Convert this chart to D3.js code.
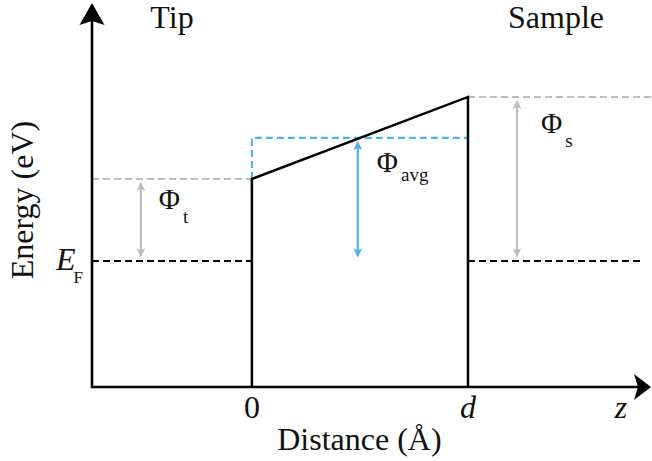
<!DOCTYPE html>
<html>
<head>
<meta charset="utf-8">
<script src="https://cdn.jsdelivr.net/npm/d3@7"></script>
<style>
  html, body { margin: 0; padding: 0; background: #fff; }
  svg { display: block; }
</style>
</head>
<body>
<svg id="chart" width="652" height="461"></svg>
<script>
// Distance along the junction, in units of the gap width d (tip surface at 0, sample at 1)
const zRange = [-0.74, 1.847];
const barrierEdges = [0, 1];
const zTickLabels = ["0", "d", "z"];
const zTickPositions = [0, 1, 1.708];

// Energies relative to the Fermi level (eV)
const energyRange = [-3.07, 6.29];
const fermiLevel = 0;
const tipWorkFunction = 2.0;      // Φt
const sampleWorkFunction = 4.0;   // Φs
const avgWorkFunction = (tipWorkFunction + sampleWorkFunction) / 2; // Φavg

// Where the work-function arrows sit along z
const arrowZ = [-0.514, 0.49, 1.227];

const FONT = "'Liberation Serif', 'Times New Roman', Tinos, 'DejaVu Serif', serif";

const svg = d3.select("#chart")
  .attr("font-family", FONT)
  .style("font-family", FONT);
const x = d3.scaleLinear().domain(zRange).range([92, 651]);
const y = d3.scaleLinear().domain(energyRange).range([387, 3]);
const line = d3.line().x(d => x(d[0])).y(d => y(d[1]));

const blue = "#4cb6e8";
const grey = "#bdbdbd";
const zLo = zRange[0], yLo = energyRange[0];

// arrow heads for the work-function markers
const defs = svg.append("defs");
function head(id, color) {
  defs.append("marker")
    .attr("id", id)
    .attr("viewBox", "0 0 10 10")
    .attr("refX", 9).attr("refY", 5)
    .attr("markerWidth", 9).attr("markerHeight", 9)
    .attr("markerUnits", "userSpaceOnUse")
    .attr("orient", "auto-start-reverse")
    .append("path")
    .attr("d", "M0,0 L10,5 L0,10 L2.5,5 Z")
    .attr("fill", color);
}
head("hGrey", grey);
head("hBlue", blue);

// vacuum levels (dashed grey)
svg.append("path").datum([[zLo, tipWorkFunction], [0, tipWorkFunction]])
  .attr("d", line).attr("fill", "none").attr("stroke", grey)
  .attr("stroke-width", 2).attr("stroke-dasharray", "7,4");
svg.append("path").datum([[1, sampleWorkFunction], [zRange[1] + 0.01, sampleWorkFunction]])
  .attr("d", line).attr("fill", "none").attr("stroke", grey)
  .attr("stroke-width", 2).attr("stroke-dasharray", "7,4");

// average barrier (dashed blue)
svg.append("path").datum([[0, tipWorkFunction], [0, avgWorkFunction], [1, avgWorkFunction]])
  .attr("d", line).attr("fill", "none").attr("stroke", blue)
  .attr("stroke-width", 2.2).attr("stroke-dasharray", "7,4");

// Fermi levels (dashed black)
svg.append("path").datum([[zLo, fermiLevel], [0, fermiLevel]])
  .attr("d", line).attr("fill", "none").attr("stroke", "#000")
  .attr("stroke-width", 2).attr("stroke-dasharray", "7,4");
svg.append("path").datum([[1, fermiLevel], [x.invert(640), fermiLevel]])
  .attr("d", line).attr("fill", "none").attr("stroke", "#000")
  .attr("stroke-width", 2).attr("stroke-dasharray", "7,4");

// trapezoidal barrier
svg.append("path").datum([
    [barrierEdges[0], yLo], [barrierEdges[0], tipWorkFunction],
    [barrierEdges[1], sampleWorkFunction], [barrierEdges[1], yLo]])
  .attr("d", line).attr("fill", "none").attr("stroke", "#000")
  .attr("stroke-width", 2.5).attr("stroke-linejoin", "miter");

// work-function arrows
const pad = 4 / 41;
const arrows = [
  { z: arrowZ[0], top: tipWorkFunction, color: grey, m: "hGrey" },
  { z: arrowZ[1], top: avgWorkFunction, color: blue, m: "hBlue" },
  { z: arrowZ[2], top: sampleWorkFunction, color: grey, m: "hGrey" }
];
arrows.forEach(a => {
  svg.append("path").datum([[a.z, a.top - pad], [a.z, fermiLevel + pad * 1.2]])
    .attr("d", line).attr("fill", "none").attr("stroke", a.color)
    .attr("stroke-width", 2.2)
    .attr("marker-start", `url(#${a.m})`).attr("marker-end", `url(#${a.m})`);
});

// axes with notched arrow heads
const x0 = x(zLo), y0 = y(yLo);
svg.append("line").attr("x1", x0).attr("y1", y0).attr("x2", x(zRange[1]) - 8).attr("y2", y0)
  .attr("stroke", "#000").attr("stroke-width", 2.6);
svg.append("line").attr("x1", x0).attr("y1", y0 + 1.3).attr("x2", x0).attr("y2", y(energyRange[1]) + 8)
  .attr("stroke", "#000").attr("stroke-width", 2.6);
const xt = x(zRange[1]), yt = y(energyRange[1]);
svg.append("path")
  .attr("d", `M${xt},${y0} L${xt - 17},${y0 - 13} L${xt - 13},${y0} L${xt - 17},${y0 + 13} Z`)
  .attr("fill", "#000");
svg.append("path")
  .attr("d", `M${x0},${yt} L${x0 - 12.5},${yt + 22} L${x0},${yt + 18} L${x0 + 12.5},${yt + 22} Z`)
  .attr("fill", "#000");

function txt(sel) { return sel.attr("font-family", FONT).attr("fill", "#111"); }

// z tick labels
zTickLabels.forEach((t, i) => {
  txt(svg.append("text"))
    .attr("x", x(zTickPositions[i])).attr("y", 418)
    .attr("text-anchor", "middle")
    .attr("font-size", 32)
    .attr("font-style", i === 0 ? "normal" : "italic")
    .text(t);
});

// axis titles
txt(svg.append("text")).attr("x", x(0.5) - 0.5).attr("y", 450)
  .attr("text-anchor", "middle").attr("font-size", 32).text("Distance (Å)");
txt(svg.append("text")).attr("transform", `translate(33,200) rotate(-90)`)
  .attr("text-anchor", "middle").attr("font-size", 32).text("Energy (eV)");

// region labels
txt(svg.append("text")).attr("x", 172).attr("y", 28).attr("text-anchor", "middle")
  .attr("font-size", 32).text("Tip");
txt(svg.append("text")).attr("x", 556).attr("y", 28).attr("text-anchor", "middle")
  .attr("font-size", 32).text("Sample");

// E_F label
const ef = txt(svg.append("text")).attr("x", 56).attr("y", 270).attr("font-size", 32);
ef.append("tspan").attr("font-style", "italic").text("E");
ef.append("tspan").attr("dx", -2).attr("dy", 13).attr("font-size", 17).text("F");

// work-function labels
function phi(px, py, sub, drop) {
  const t = txt(svg.append("text")).attr("x", px).attr("y", py).attr("font-size", 29);
  t.append("tspan").text("Φ");
  t.append("tspan").attr("dx", 3).attr("dy", drop).attr("font-size", 19).text(sub);
}
phi(x(arrowZ[0]) + 18, y(tipWorkFunction) + 30, "t", 14);
phi(x(arrowZ[1]) + 19, y(avgWorkFunction) + 34, "avg", 9);
phi(x(arrowZ[2]) + 24, y(sampleWorkFunction) + 36, "s", 14);
</script>
</body>
</html>
